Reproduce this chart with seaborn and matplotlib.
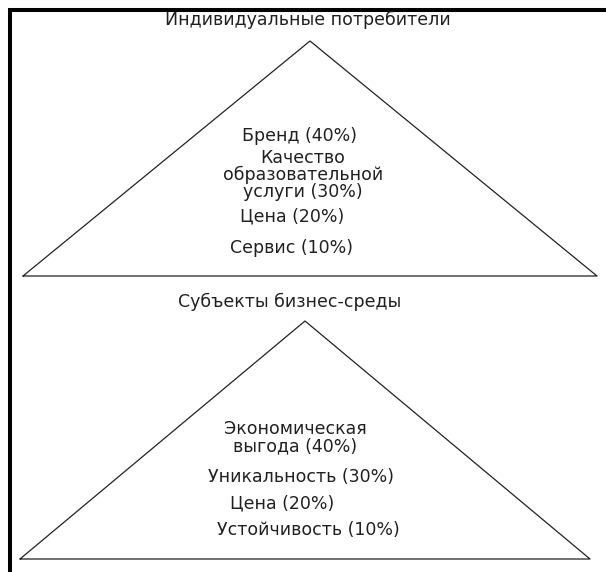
import matplotlib
matplotlib.use("Agg")
import matplotlib.pyplot as plt
import seaborn as sns
import pandas as pd

# ---- data ----
groups = ["Индивидуальные потребители", "Субъекты бизнес-среды"]
factors_1 = ["Бренд", "Качество\nобразовательной\nуслуги", "Цена", "Сервис"]
shares_1 = [40, 30, 20, 10]
factors_2 = ["Экономическая\nвыгода", "Уникальность", "Цена", "Устойчивость"]
shares_2 = [40, 30, 20, 10]

# ---- layout (pixel coordinates, y downwards) ----
W, H = 606, 572
tri_1 = dict(left=23, right=597, apex_x=310, apex_y=41, base_y=276)
tri_2 = dict(left=20, right=590, apex_x=305, apex_y=321, base_y=559)
title_pos = [(308, 20), (290, 302)]
label_pos_1 = [(299, 136), (303, 175), (292, 216), (292, 248)]
label_pos_2 = [(295, 437.5), (301, 477), (282, 503), (308, 530)]

sns.set_theme(style="white")
plt.rcParams["font.family"] = ["DejaVu Sans"]

fig = plt.figure(figsize=(W / 100, H / 100), dpi=100)
ax = fig.add_axes([0, 0, 1, 1])
ax.set_xlim(0, W)
ax.set_ylim(H, 0)
ax.axis("off")

# frame (top and left)
ax.plot([8, W], [10, 10], color="black", lw=2.9, solid_capstyle="butt")
ax.plot([10, 10], [8, H], color="black", lw=2.9, solid_capstyle="butt")

text_color = "#202020"
fs = 12.5
for tri, title, tpos, factors, shares, lpos in [
    (tri_1, groups[0], title_pos[0], factors_1, shares_1, label_pos_1),
    (tri_2, groups[1], title_pos[1], factors_2, shares_2, label_pos_2),
]:
    df = pd.DataFrame({
        "x": [tri["left"], tri["apex_x"], tri["right"], tri["left"]],
        "y": [tri["base_y"], tri["apex_y"], tri["base_y"], tri["base_y"]],
    })
    sns.lineplot(data=df, x="x", y="y", sort=False, estimator=None,
                 color="#222222", lw=0.9, ax=ax)
    ax.text(tpos[0], tpos[1], title, ha="center", va="center",
            fontsize=fs, color=text_color)
    for f, s, (px, py) in zip(factors, shares, lpos):
        ax.text(px, py, f"{f} ({s}%)", ha="center", va="center",
                fontsize=fs, color=text_color, linespacing=0.92,
                multialignment="center")

ax.set_xlim(0, W)
ax.set_ylim(H, 0)
ax.axis("off")
fig.savefig("out.png", dpi=100)
